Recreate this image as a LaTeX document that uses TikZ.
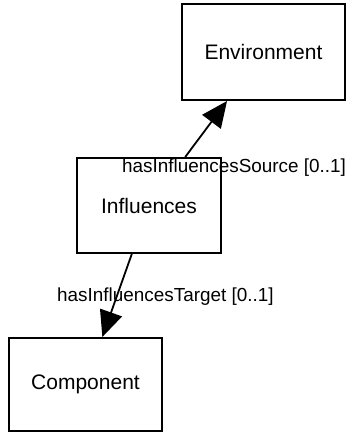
\documentclass[tikz,border=0pt]{standalone}
\usepackage{fontspec}
\setmainfont{Liberation Sans}
\usetikzlibrary{arrows.meta}
\begin{document}
\begin{tikzpicture}[x=1pt,y=1pt,
  classbox/.style={draw=black, line width=2pt, fill=white, rectangle, inner sep=0pt,
    font=\fontsize{21}{25}\selectfont},
  assoc/.style={draw=black, line width=1.8pt, -{Triangle[length=26pt,width=23pt]}},
  rolelabel/.style={font=\fontsize{18.9}{22}\selectfont, inner sep=0pt, anchor=base west}]
\useasboundingbox (0,0) rectangle (347,-434);
\node[classbox, minimum width=163pt, minimum height=96pt] (env) at (263.5,-52) {Environment};
\node[classbox, minimum width=144pt, minimum height=95pt] (inf) at (149,-205.5) {Influences};
\node[classbox, minimum width=153pt, minimum height=93pt] (comp) at (85.5,-384.5) {Component};
\draw[assoc] (inf) -- (env);
\draw[assoc] (inf) -- (comp);
\node[rolelabel] (lsrc) at (122,-172) {hasInfluencesSource [0..1]};
\node[rolelabel] (ltgt) at (57,-301) {hasInfluencesTarget [0..1]};
\end{tikzpicture}
\end{document}
